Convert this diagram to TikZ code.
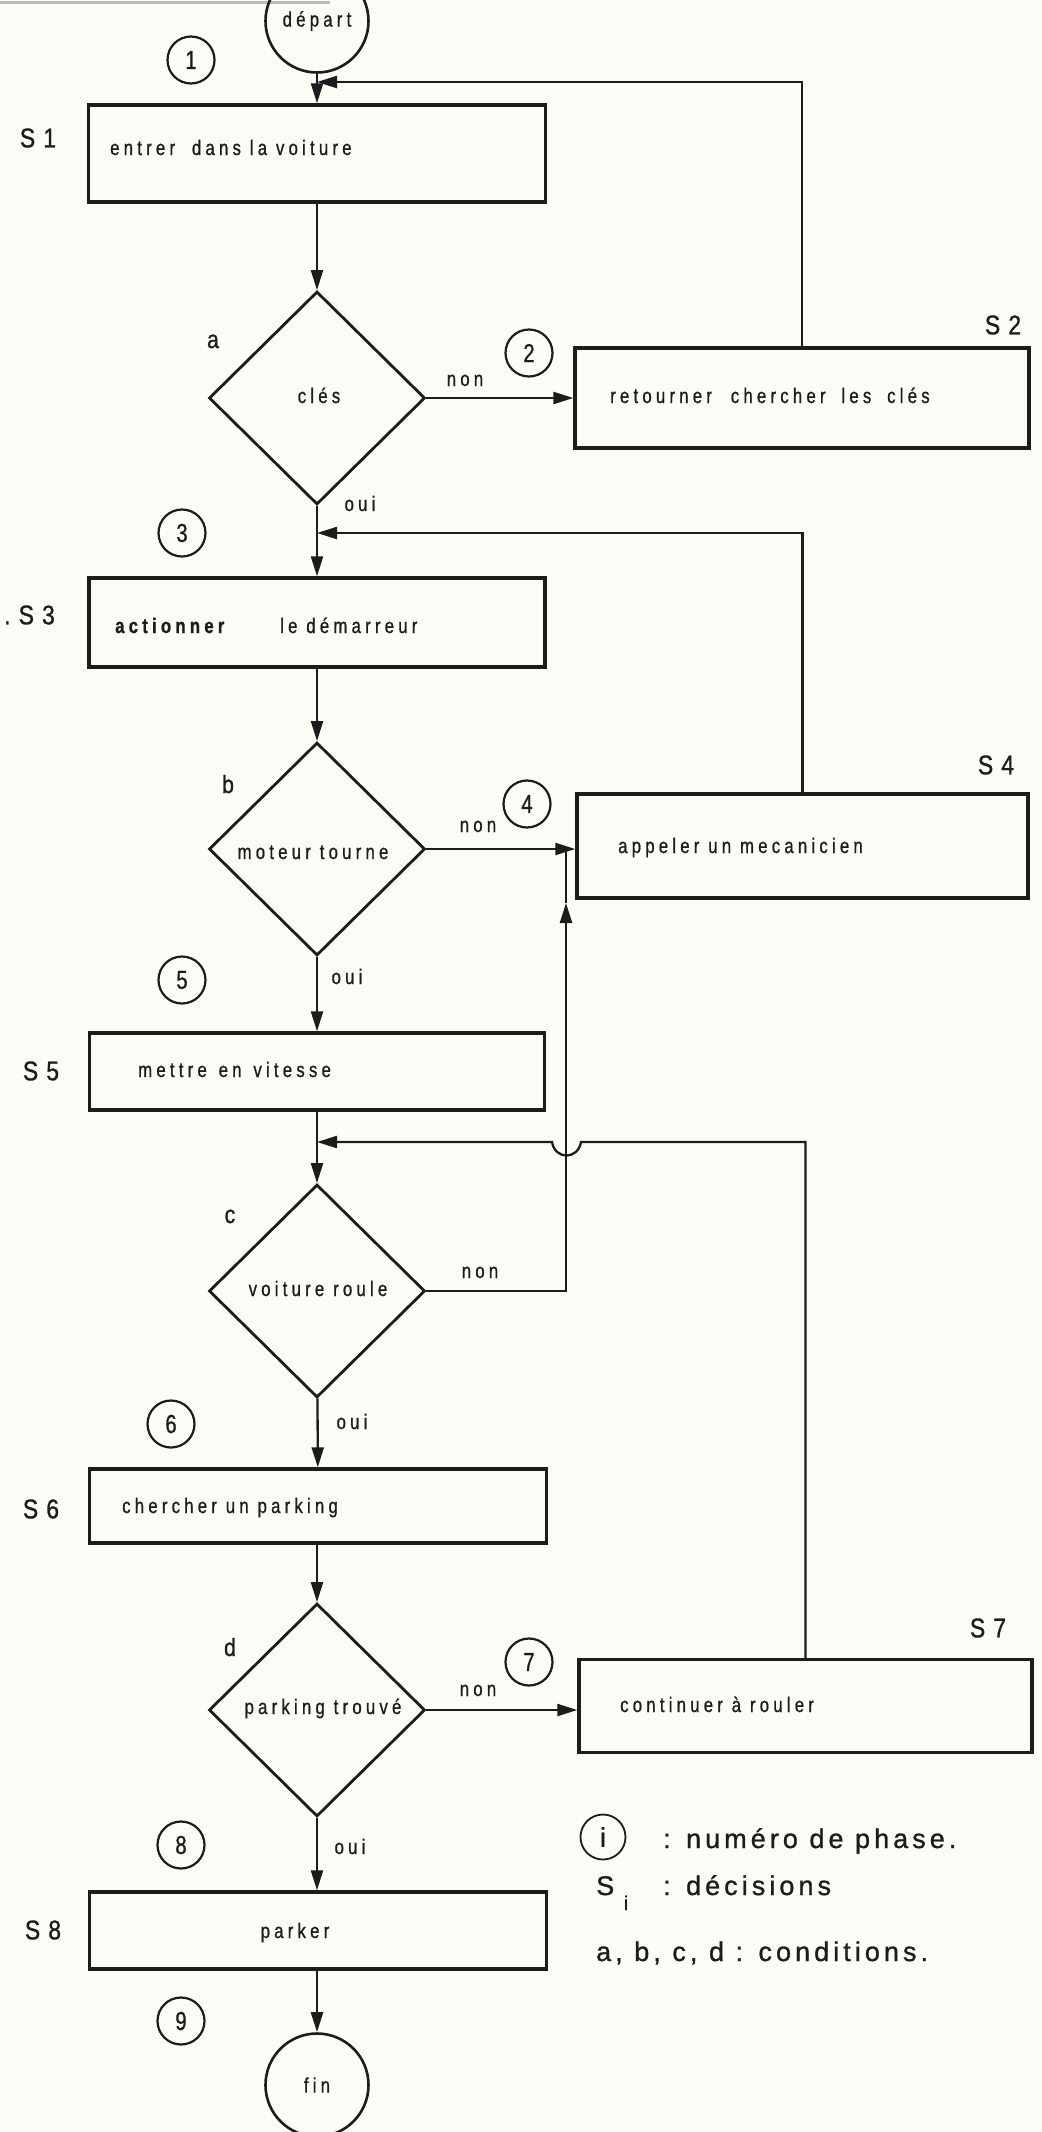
\documentclass[tikz,border=0pt]{standalone}
\usepackage{fontspec}
\setmainfont{Liberation Sans}
\usetikzlibrary{arrows.meta,shapes.geometric}
\newfontfamily\boxff[FakeStretch=0.8,LetterSpace=20,FakeBold=0.8]{Liberation Sans}
\newfontfamily\labff[FakeStretch=0.85,LetterSpace=30,FakeBold=1]{Liberation Sans}
\newfontfamily\digff[FakeStretch=0.78,FakeBold=0.8]{Liberation Sans}
\newfontfamily\legff[LetterSpace=15,FakeBold=1]{Liberation Sans}
\newcommand\boxfont{\boxff\fontsize{21bp}{23bp}\selectfont}
\newcommand\labfont{\labff\fontsize{27bp}{29bp}\selectfont}
\newcommand\condfont{\labff\fontsize{25bp}{27bp}\selectfont}
\newcommand\digfont{\digff\fontsize{26bp}{28bp}\selectfont}
\newcommand\legfont{\legff\fontsize{27bp}{29bp}\selectfont}
\definecolor{bgcol}{RGB}{252,252,246}
\definecolor{ink}{RGB}{28,28,28}
\begin{document}
\begin{tikzpicture}[x=1bp,y=-1bp,
  every node/.style={text=ink},
  box/.style={draw=ink, line width=3.4bp, rectangle, inner sep=0},
  dia/.style={draw=ink, diamond, aspect=1, line width=2.8bp, inner sep=0, minimum width=216bp, minimum height=213bp},
  term/.style={draw=ink, circle, line width=2.6bp, inner sep=0, minimum size=103bp, font=\boxfont},
  phase/.style={draw=ink, circle, line width=2.2bp, inner sep=0, minimum size=47bp, font=\digfont},
  conn/.style={draw=ink, line width=2.3bp},
  arr/.style={conn, -{Triangle[length=20bp,width=12bp]}},
  txt/.style={inner sep=0, font=\boxfont, anchor=base west},
  ctxt/.style={inner sep=0, font=\boxfont, anchor=base},
  slab/.style={inner sep=0, font=\labfont},
  cond/.style={inner sep=0, font=\condfont, anchor=base},
  leg/.style={inner sep=0, font=\legfont, anchor=base west}]
\fill[bgcol] (0,0) rectangle (1042,2132);
\useasboundingbox (0,0) rectangle (1042,2132);
\draw[gray!55, line width=3bp] (0,2) -- (330,2);

% terminals
\node[term] (dep) at (317,21) {d\'epart};
\node[term] (fin) at (317,2085) {fin};

% boxes
\node[box, minimum width=457bp, minimum height=97bp] (s1) at (317,153.5) {};
\node[box, minimum width=454bp, minimum height=100bp] (s2) at (802,398) {};
\node[box, minimum width=456bp, minimum height=89bp] (s3) at (317,622.5) {};
\node[box, minimum width=451bp, minimum height=104bp] (s4) at (802.5,846) {};
\node[box, minimum width=455bp, minimum height=77bp] (s5) at (317,1071.5) {};
\node[box, minimum width=457bp, minimum height=74bp] (s6) at (318,1506) {};
\node[box, minimum width=453bp, minimum height=93bp] (s7) at (805.5,1706) {};
\node[box, minimum width=457bp, minimum height=77bp] (s8) at (318,1930.5) {};

% diamonds
\node[dia] (a) at (317,398) {};
\node[dia] (b) at (317,849) {};
\node[dia] (c) at (317,1291) {};
\node[dia] (d) at (317,1710) {};

% box texts
\node[txt] (t1) at (110,155) {entrer\hspace{8bp} dans la voiture};
\node[txt] (t2) at (610,403) {retourner\hspace{10bp} chercher\hspace{7bp} les\hspace{7bp} cl\'es};
\node[txt, font=\boxfont\bfseries] (t3a) at (115,633) {actionner};
\node[txt] (t3b) at (280,633) {le d\'emarreur};
\node[txt] (t4) at (618,853) {appeler un mecanicien};
\node[txt] (t5) at (138,1077) {mettre\hspace{3bp} en\hspace{3bp} vitesse};
\node[txt] (t6) at (122,1513) {chercher un parking};
\node[txt] (t7) at (620,1712) {continuer \`a rouler};
\node[ctxt] (t8) at (295,1938) {parker};

% diamond texts
\node[ctxt] (ta) at (319,403) {cl\'es};
\node[ctxt] (tb) at (313,859) {moteur tourne};
\node[ctxt] (tc) at (318,1296) {voiture roule};
\node[ctxt] (td) at (323,1714) {parking trouv\'e};

% condition letters
\node[cond] (la) at (213,348) {a};
\node[cond] (lb) at (228,793) {b};
\node[cond] (lc) at (230,1223) {c};
\node[cond] (ld) at (230,1656) {d};

% S labels
\node[slab] (L1) at (38,138) {S1};
\node[slab] (L2) at (1003,325) {S2};
\node[slab, anchor=west] (L3) at (4,615) {.S3};
\node[slab] (L4) at (996,765) {S4};
\node[slab] (L5) at (41,1071) {S5};
\node[slab] (L6) at (41,1509) {S6};
\node[slab] (L7) at (988,1628) {S7};
\node[slab] (L8) at (43,1930) {S8};

% phases
\node[phase] (p1) at (191,60) {1};
\node[phase] (p2) at (529,353) {2};
\node[phase] (p3) at (182,533) {3};
\node[phase] (p4) at (527,804) {4};
\node[phase] (p5) at (182,980) {5};
\node[phase] (p6) at (171,1424) {6};
\node[phase] (p7) at (529,1662) {7};
\node[phase] (p8) at (181,1845) {8};
\node[phase] (p9) at (181,2021) {9};

% non / oui
\node[ctxt] (na) at (465,386) {non};
\node[ctxt] (nb) at (478,832) {non};
\node[ctxt] (nc) at (480,1278) {non};
\node[ctxt] (nd) at (478,1696) {non};
\node[ctxt] (oa) at (360,511) {oui};
\node[ctxt] (ob) at (347,984) {oui};
\node[ctxt] (oc) at (352,1429) {oui};
\node[ctxt] (od) at (350,1854) {oui};

% main flow
\draw[arr] (dep) -- (s1);
\draw[arr] (s1) -- (a);
\draw[arr] (a) -- (s3);
\draw[arr] (s3) -- (b);
\draw[arr] (b) -- (s5);
\draw[arr] (s5) -- (c);
\draw[arr] (c) -- (s6);
\draw[arr] (s6.south -| d.north) -- (d);
\draw[arr] (d.south) -- (d.south |- s8.north);
\draw[arr] (s8.south -| fin.north) -- (fin);

% non branches
\draw[arr] (a.east) -- (s2.west);
\draw[arr] (b.east) -- (b.east -| s4.west);
\coordinate (cup) at (566,903);
\coordinate (cjoin) at (566,849);
\draw[arr] (c.east) -| (cup);
\draw[conn] (cup) -- (cjoin);
\draw[arr] (d.east) -- (d.east -| s7.west);

% loops
\coordinate (j1) at (317,82);
\coordinate (j2) at (317,533);
\coordinate (j3) at (317,1142);
\draw[arr] (s2.north) |- (j1);
\draw[arr] (s4.north) |- (j2);
\draw[arr] (s7.north) -- (s7.north |- j3) -- (581,1142) .. controls (578,1160) and (555,1160) .. (552,1142) -- (j3);

% legend
\node[phase, font=\legfont, minimum size=45bp, line width=1.8bp] (li) at (603,1837) {i};
\node[leg] (lt1) at (663,1848) {: num\'ero de phase.};
\node[leg] (lS) at (596,1895) {S};
\node[inner sep=0, font=\legff\fontsize{20bp}{22bp}\selectfont, anchor=base] (lsub) at (626,1910) {i};
\node[leg] (lt2) at (663,1895) {: d\'ecisions};
\node[leg] (lt3) at (596,1961) {a, b, c, d : conditions.};
\end{tikzpicture}
\end{document}
